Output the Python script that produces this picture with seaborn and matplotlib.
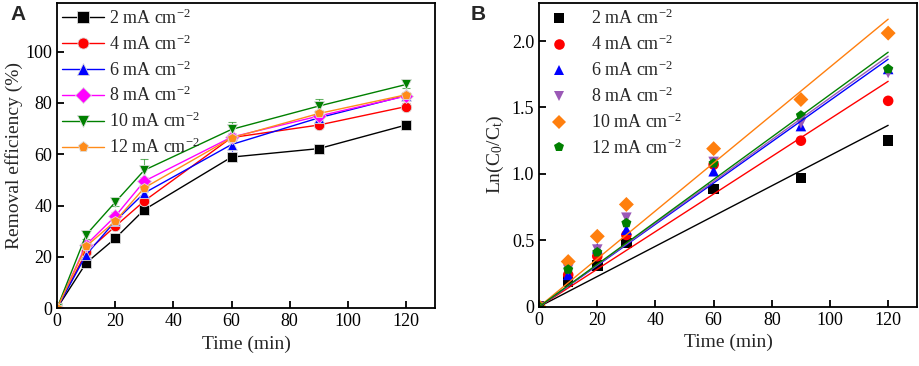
import numpy as np
import pandas as pd
import seaborn as sns
from matplotlib import pyplot as plt

#--- data
time = [0, 10, 20, 30, 60, 90, 120]
labels = ['2 mA cm$^{-2}$', '4 mA cm$^{-2}$', '6 mA cm$^{-2}$',
          '8 mA cm$^{-2}$', '10 mA cm$^{-2}$', '12 mA cm$^{-2}$']

# panel A: removal efficiency (%)
eff_2 = [0, 17.6, 27.2, 38.4, 58.9, 62.2, 71.4]
eff_4 = [0, 21.8, 31.9, 41.8, 66.5, 71.4, 78.6]
eff_6 = [0, 20.8, 33.9, 44.9, 63.8, 74.2, 82.9]
eff_8 = [0, 24.7, 35.8, 49.5, 66.7, 74.9, 82.7]
eff_10 = [0, 28.6, 41.3, 53.8, 69.7, 78.8, 87.2]
eff_12 = [0, 24.1, 33.9, 46.9, 66.4, 75.9, 83.2]
err_2 = [0, 1.0, 1.0, 1.2, 1.0, 1.0, 1.0]
err_4 = [0, 1.0, 1.2, 1.5, 1.2, 1.2, 1.2]
err_6 = [0, 1.0, 1.2, 1.5, 3.0, 1.2, 1.0]
err_8 = [0, 1.2, 1.5, 1.5, 1.5, 1.5, 1.2]
err_10 = [0, 1.5, 1.5, 4.2, 3.0, 2.6, 1.2]
err_12 = [0, 1.0, 1.2, 1.5, 1.5, 1.2, 1.2]

# panel B: Ln(C0/Ct)
ln_2 = [0, 0.19, 0.31, 0.48, 0.886, 0.97, 1.25]
ln_4 = [0, 0.24, 0.38, 0.54, 1.07, 1.25, 1.55]
ln_6 = [0, 0.24, 0.44, 0.58, 1.02, 1.36, 1.79]
ln_8 = [0, 0.28, 0.43, 0.67, 1.09, 1.38, 1.76]
ln_10 = [0, 0.34, 0.53, 0.77, 1.19, 1.56, 2.06]
ln_12 = [0, 0.28, 0.41, 0.63, 1.08, 1.44, 1.79]

effs = [eff_2, eff_4, eff_6, eff_8, eff_10, eff_12]
errs = [err_2, err_4, err_6, err_8, err_10, err_12]
lns = [ln_2, ln_4, ln_6, ln_8, ln_10, ln_12]

colors_a = ['black', '#FF0000', '#0000FF', '#FF00FF', '#008000', '#FF8C1A']
markers_a = ['s', 'o', '^', 'D', 'v', 'p']
colors_b = ['black', '#FF0000', '#0000FF', '#9B59B6', '#FF7F0E', '#008000']
markers_b = ['s', 'o', '^', 'v', 'D', 'p']

df_a = pd.DataFrame({
    'Time': time * 6,
    'eff': sum(effs, []),
    'err': sum(errs, []),
    'series': sum([[l] * len(time) for l in labels], []),
})
df_b = pd.DataFrame({
    'Time': time * 6,
    'ln': sum(lns, []),
    'series': sum([[l] * len(time) for l in labels], []),
})

#--- style
sns.set_style('ticks')
plt.rcParams['font.family'] = ['Liberation Serif', 'DejaVu Serif']
plt.rcParams['mathtext.default'] = 'regular'
plt.rcParams['xtick.direction'] = 'in'
plt.rcParams['ytick.direction'] = 'in'
plt.rcParams['axes.edgecolor'] = 'black'
plt.rcParams['axes.linewidth'] = 1.3
plt.rcParams['xtick.major.width'] = 1.3
plt.rcParams['ytick.major.width'] = 1.3
plt.rcParams['xtick.major.size'] = 5
plt.rcParams['ytick.major.size'] = 5
plt.rcParams['xtick.color'] = 'black'
plt.rcParams['ytick.color'] = 'black'

fig = plt.figure(figsize=(9.2, 3.66), dpi=100)
ax1 = fig.add_axes([0.062, 0.158, 0.411, 0.834])
ax2 = fig.add_axes([0.586, 0.162, 0.411, 0.831])

#--- panel A
for lab, c in zip(labels, colors_a):
    sub = df_a[df_a.series == lab]
    ax1.errorbar(sub.Time, sub.eff, yerr=sub.err, fmt='none', ecolor=c,
                 elinewidth=0.8, capsize=3, capthick=0.8, alpha=0.6)
sns.lineplot(data=df_a, x='Time', y='eff', hue='series', style='series',
             palette=colors_a, markers=markers_a, dashes=False,
             markersize=7.5, markeredgewidth=0.6, markeredgecolor='#dddddd',
             linewidth=1.0, ax=ax1)

ax1.set_xlim(0, 130)
ax1.set_ylim(0, 119)
ax1.set_xticks(range(0, 121, 20))
ax1.set_yticks(range(0, 101, 20))
ax1.set_xlabel('Time (min)', fontsize=14)
ax1.set_ylabel('Removal efficiency (%)', fontsize=14, labelpad=2)
ax1.tick_params(labelsize=13)
leg = ax1.legend(loc='upper left', frameon=False, fontsize=13,
                 handlelength=2.3, labelspacing=0.36, borderaxespad=0.05,
                 handletextpad=0.3, borderpad=0.25)
for h in leg.legend_handles:
    h.set_markersize(8)
    h.set_markeredgewidth(0.6)
    h.set_markeredgecolor('#dddddd')

#--- panel B
xfit = np.array([0, 120])
for lab, c in zip(labels, colors_b):
    sub = df_b[df_b.series == lab]
    x = sub.Time.values
    y = sub.ln.values
    k = np.sum(x * y) / np.sum(x * x)
    ax2.plot(xfit, k * xfit, color=c, linewidth=1.0)
sns.scatterplot(data=df_b, x='Time', y='ln', hue='series', style='series',
                palette=colors_b, markers=markers_b, s=58, linewidth=0,
                ax=ax2)

ax2.set_xlim(0, 130)
ax2.set_ylim(0, 2.29)
ax2.set_xticks(range(0, 121, 20))
ax2.set_yticks([0, 0.5, 1.0, 1.5, 2.0])
ax2.set_yticklabels(['0', '0.5', '1.0', '1.5', '2.0'])
ax2.set_xlabel('Time (min)', fontsize=14)
ax2.set_ylabel('Ln(C$_0$/C$_t$)', fontsize=14, labelpad=4)
ax2.tick_params(labelsize=13)
ax2.legend(loc='upper left', frameon=False, fontsize=13, handlelength=1.5,
           labelspacing=0.36, borderaxespad=0.05, handletextpad=1.0,
           borderpad=0.3, markerscale=1.0)

for ax in (ax1, ax2):
    for s in ax.spines.values():
        s.set_visible(True)
        s.set_color('black')

fig.text(0.011, 0.945, 'A', fontsize=15, fontweight='bold',
         family='Liberation Sans')
fig.text(0.512, 0.945, 'B', fontsize=15, fontweight='bold',
         family='Liberation Sans')

plt.savefig('out.png', dpi=100)
plt.close()
